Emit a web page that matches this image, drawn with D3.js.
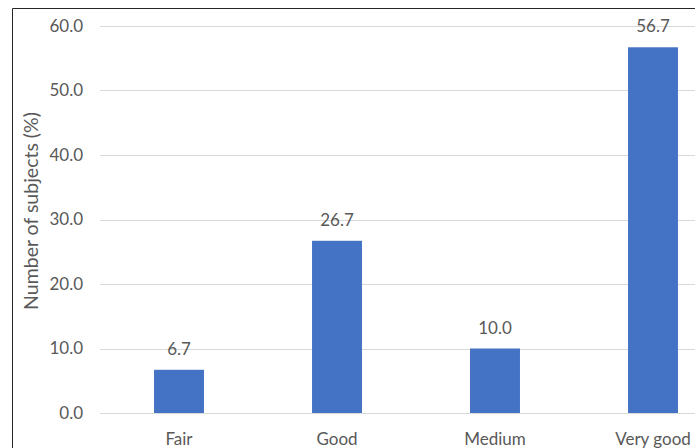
<!DOCTYPE html>
<html>
<head>
<meta charset="utf-8">
<script src="https://cdn.jsdelivr.net/npm/d3@7"></script>
<style>
  body { margin: 0; background: #fff; }
  svg text { font-family: Lato, "Open Sans", sans-serif; fill: #595959; }
</style>
</head>
<body>
<div id="chart"></div>
<script>
// chart data
var categories = ["Fair", "Good", "Medium", "Very good"];
var values = [6.7, 26.7, 10.0, 56.7];
var yTicks = [0, 10, 20, 30, 40, 50, 60];

var width = 695, height = 448;
var plotLeft = 100, plotRight = 732, plotTop = 26, plotBottom = 413;

var svg = d3.select("#chart").append("svg")
  .attr("width", width)
  .attr("height", height);

var x = d3.scaleBand()
  .domain(categories)
  .range([plotLeft, plotRight])
  .paddingInner(0.684)
  .paddingOuter(0.342);

var y = d3.scaleLinear()
  .domain([0, 60])
  .range([plotBottom, plotTop]);

// gridlines
svg.append("g").attr("class", "grid")
  .selectAll("line")
  .data(yTicks)
  .join("line")
    .attr("x1", plotLeft)
    .attr("x2", width)
    .attr("y1", d => Math.round(y(d)) + 0.5)
    .attr("y2", d => Math.round(y(d)) + 0.5)
    .attr("stroke", "#d9d9d9")
    .attr("stroke-width", 1);

// y axis labels (no domain line)
var yAxis = svg.append("g")
  .attr("transform", `translate(${plotLeft - 17},0)`)
  .call(d3.axisLeft(y).tickValues(yTicks).tickSize(0).tickFormat(d3.format(".1f")));
yAxis.select(".domain").remove();
yAxis.selectAll("text")
  .attr("x", 0)
  .style("font-size", "17px")
  .style("font-family", "Lato, sans-serif")
  .attr("fill", "#595959");

// bars
svg.append("g").attr("class", "bars")
  .selectAll("rect")
  .data(values)
  .join("rect")
    .attr("x", (d, i) => x(categories[i]))
    .attr("y", d => y(d))
    .attr("width", x.bandwidth())
    .attr("height", d => y(0) - y(d))
    .attr("fill", "#4472c4");

// value labels
svg.append("g").attr("class", "labels")
  .selectAll("text")
  .data(values)
  .join("text")
    .attr("x", (d, i) => x(categories[i]) + x.bandwidth() / 2)
    .attr("y", d => y(d) - 15)
    .attr("text-anchor", "middle")
    .style("font-size", "17px")
    .text(d => d.toFixed(1));

// x axis labels
var xAxis = svg.append("g")
  .attr("transform", `translate(0,${plotBottom})`)
  .call(d3.axisBottom(x).tickSize(0));
xAxis.select(".domain").remove();
xAxis.selectAll("text")
  .attr("y", 32)
  .attr("dy", 0)
  .style("font-size", "17px")
  .style("font-family", "Lato, sans-serif")
  .attr("fill", "#595959");

// y axis title
svg.append("text")
  .attr("transform", "translate(38,211) rotate(-90)")
  .attr("text-anchor", "middle")
  .style("font-size", "19.5px")
  .text("Number of subjects (%)");

// outer frame (top and left edges visible)
svg.append("path")
  .attr("d", `M12.5,${height} V8.5 H${width}`)
  .attr("fill", "none")
  .attr("stroke", "#262626")
  .attr("stroke-width", 1);
</script>
</body>
</html>
